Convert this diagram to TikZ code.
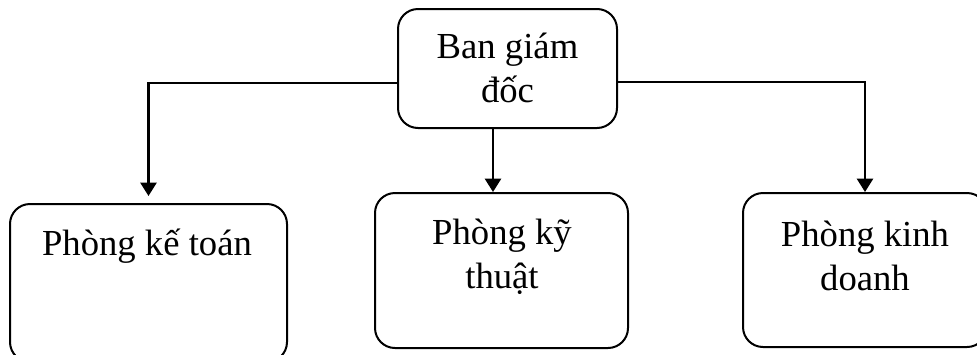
\documentclass[tikz,border=0pt]{standalone}
\usepackage{fontspec}
\setmainfont{Liberation Serif}
\usetikzlibrary{arrows, arrows.meta}
\usetikzlibrary{calc}

\begin{document}
\begin{tikzpicture}[x=0.75pt, y=-0.75pt,
    box/.style={draw, line width=1.5pt, rounded corners=15pt, inner sep=0pt},
    txt/.style={align=center, inner sep=0pt, font=\fontsize{27.5}{33}\selectfont},
    link/.style={line width=1.8pt, -{Triangle[width=12pt, length=10pt]}}]
    \useasboundingbox (0,0) rectangle (977,354);

    \node[box, minimum width=164.25pt, minimum height=89.25pt] (bgd) at (507.5,68.5) {};
    \node[box, minimum width=207.75pt, minimum height=118.5pt] (ktoan) at (148.5,283) {};
    \node[box, minimum width=189.75pt, minimum height=116.25pt] (kthuat) at (501.5,270.5) {};
    \node[box, minimum width=183pt, minimum height=115.5pt] (kdoanh) at (865,270) {};

    \node[txt, anchor=base] (bgd-t) at (507.5,102) {Ban giám\\đốc};
    \node[txt, anchor=base] (ktoan-t) at (147,255) {Phòng kế toán};
    \node[txt, anchor=base] (kthuat-t) at (502,288) {Phòng kỹ\\thuật};
    \node[txt, anchor=base] (kdoanh-t) at (865,290) {Phòng kinh\\doanh};

    \draw[link] ($(bgd.west)+(0,14.5)$) -| ($(ktoan.north)+(0,-7)$);
    \draw[link] ($(bgd.east)+(0,13.5)$) -| (kdoanh.north);
    \draw[link] ($(bgd.south)+(-14.5,0)$) -- ($(kthuat.north)+(-8.5,0)$);
  \end{tikzpicture}
\end{document}
